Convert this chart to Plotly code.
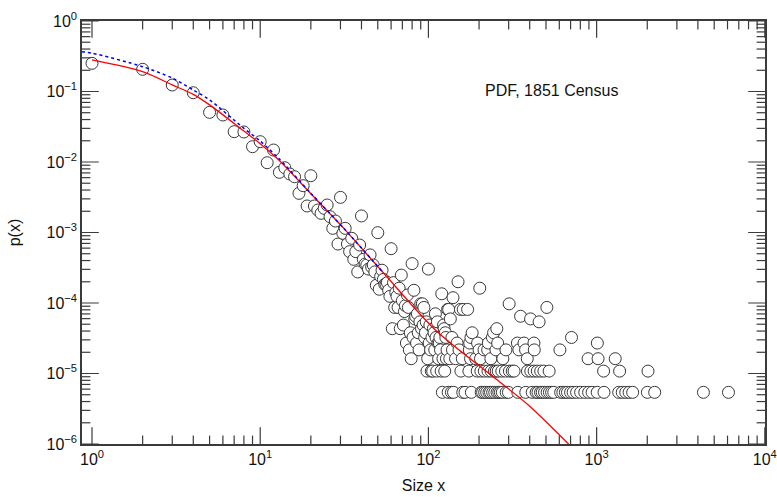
import plotly.graph_objects as go

# Observed size distribution: size x and number of occurrences at that size
census_total = 185000

sizes = [
    1, 2, 3, 4, 5, 6, 7, 8, 9, 10, 11, 12, 13, 14, 15, 16, 17, 18, 19, 20,
    21, 22, 23, 24, 25, 26, 27, 28, 29, 30, 31, 32, 33, 34, 35, 36, 37, 38, 39, 40,
    41, 42, 43, 44, 45, 46, 47, 48, 49, 50, 51, 52, 53, 54, 55, 56,
    57, 58, 59, 60, 61, 62, 63, 64, 65, 66, 67, 68, 69, 70, 71, 72, 73, 74, 75, 76,
    77, 78, 79, 80, 81, 82, 83, 84, 85, 86, 87, 88, 89, 90, 91, 92, 93, 94, 95, 96,
    97, 98, 99, 100, 101, 102, 103, 104, 105, 106, 107, 108, 109, 110, 111, 112,
    113, 114, 115, 116, 117, 118, 119, 120, 121, 122, 123, 124, 125, 126, 127, 128,
    129, 130, 131, 132,
    134, 135, 137, 138, 139, 140, 141, 145, 148, 150, 152, 155, 156, 159, 160, 161,
    165, 171, 174, 175, 176, 178, 179, 180, 182, 191, 195, 196, 200, 202, 204, 205,
    206, 210, 214, 215, 216, 222, 225, 226, 227, 229, 234, 235, 236, 240, 241, 244,
    247, 248, 252, 253, 255, 256, 258, 260, 262, 268, 273, 275, 277, 287, 289, 290,
    299, 302, 303, 315, 323, 338, 340, 345, 353, 370, 378, 379, 387, 388, 405, 406,
    414, 424, 425, 426, 437, 444, 448, 455, 464, 465, 475, 486, 490, 506, 508, 522,
    524, 540, 556, 605, 611, 630, 652, 671, 700, 709, 725, 760, 803, 850, 890, 896,
    940, 1008, 1010, 1020, 1100, 1106, 1290, 1353, 1370, 1420, 1490, 1560, 1638,
    2003, 2020, 2214, 4315, 6080,
]

counts = [
    46450, 38190, 22860, 17780, 9370, 8590, 4980, 4930, 3050, 3590, 1807, 2735, 1321, 1535, 1250, 1143, 665, 853, 440, 1183,
    440, 385, 346, 407, 454, 310, 212, 269, 127, 583, 180, 212, 127, 99, 153, 77, 99, 51, 123, 318,
    77, 66, 64, 56, 89, 60, 64, 51, 33, 184, 29, 44, 54, 40, 34, 34,
    36, 28, 23, 109, 8, 36, 16, 26, 23, 16, 30, 8, 46, 20, 9, 14, 17, 5, 24, 16,
    4, 7, 3, 67, 6, 28, 11, 12, 5, 13, 7, 4, 10, 18, 8, 18, 9, 16, 6, 7,
    10, 2, 3, 56, 5, 9, 4, 2, 6, 2, 8, 7, 4, 13, 6, 2,
    10, 5, 3, 5, 6, 4, 2, 25, 1, 3, 9, 8, 2, 7, 6, 3,
    4, 15, 1, 15,
    3, 11, 1, 6, 4, 22, 1, 3, 5, 37, 4, 15, 2, 3, 1, 15,
    1, 15, 2, 4, 5, 3, 6, 1, 7, 3, 2, 5, 4, 30, 3, 2,
    1, 1, 4, 2, 1, 1, 4, 2, 5, 1, 1, 3, 2, 6, 1, 7,
    2, 1, 4, 2, 8, 1, 5, 2, 1, 1, 2, 1, 3, 2, 4, 1,
    1, 18, 2, 2, 2, 5, 1, 4, 12, 5, 4, 1, 3, 2, 11, 2,
    1, 5, 2, 4, 1, 2, 1, 10, 1, 2, 1, 2, 1, 16, 1, 2,
    1, 1, 1, 4, 1, 1, 1, 1, 1, 6, 1, 1, 1, 1, 3, 1,
    1, 1, 5, 3, 2, 1, 3, 1, 2, 1, 1, 1, 1,
    1, 2, 1, 1, 1,
]

pdf = [c / census_total for c in counts]

# Fitted model curve (solid red)
fit_x = [1, 2, 3, 4, 5, 8, 10, 13, 20, 32, 53, 110, 250, 394, 681]
fit_p = [0.280, 0.191, 0.124, 0.0912, 0.0646, 0.0275, 0.0182, 0.0105,
         0.00355, 0.00109, 2.82e-4, 4.14e-5, 8.5e-6, 3.55e-6, 1.0e-6]

# Alternative model curve (dotted blue)
alt_x = [0.87, 1, 2, 3, 4, 5, 8, 10, 13, 20, 32, 53]
alt_p = [0.367, 0.35, 0.225, 0.155, 0.105, 0.076, 0.030, 0.0198, 0.0110,
         0.00360, 0.00109, 2.82e-4]

x_decades = [0, 1, 2, 3, 4]
y_decades = [0, -1, -2, -3, -4, -5, -6]
x_range = [-0.0595, 4.001]
y_range = [-6, 0]


def power_label(k):
    s = str(k).replace("-", "\u2212")
    return "10<sup>" + s + "</sup>"


def minor_vals(lo, hi):
    return [m * 10.0 ** k for k in range(lo, hi) for m in range(2, 10)]


font_family = "Liberation Sans, Arial, sans-serif"
axis_color = "#3a3a3a"
text_color = "#111111"

fig = go.Figure()

fig.add_trace(go.Scatter(
    x=sizes, y=pdf, mode="markers",
    marker=dict(symbol="circle", size=12, color="white",
                line=dict(color="#383838", width=1)),
    showlegend=False, hoverinfo="x+y",
))

fig.add_trace(go.Scatter(
    x=fit_x, y=fit_p, mode="lines",
    line=dict(color="#ff0000", width=1.3, shape="spline", smoothing=0.8),
    showlegend=False,
))

fig.add_trace(go.Scatter(
    x=alt_x, y=alt_p, mode="lines",
    line=dict(color="#0000ff", width=1.5, dash="dot", shape="spline", smoothing=0.8),
    showlegend=False,
))


# Inward tick marks on all four sides: line markers centred on the frame,
# clipped by the plot area so that only the inner half shows.
def frame_ticks(vals, along, length):
    x_lo, x_hi = 10 ** x_range[0], 10 ** x_range[1]
    y_lo, y_hi = 10 ** y_range[0], 10 ** y_range[1]
    if along == "x":
        xs = list(vals) + list(vals)
        ys = [y_lo] * len(vals) + [y_hi] * len(vals)
        symbol = "line-ns-open"
    else:
        xs = [x_lo] * len(vals) + [x_hi] * len(vals)
        ys = list(vals) + list(vals)
        symbol = "line-ew-open"
    return go.Scatter(
        x=xs, y=ys, mode="markers", cliponaxis=True,
        marker=dict(symbol=symbol, size=2 * length, color=axis_color,
                    line=dict(color=axis_color, width=1.2)),
        showlegend=False, hoverinfo="skip",
    )


x_minor = [v for v in minor_vals(0, 4) if 10 ** x_range[0] < v < 10 ** x_range[1]]
y_minor = minor_vals(-6, 0)
fig.add_trace(frame_ticks([10 ** k for k in x_decades], "x", 12))
fig.add_trace(frame_ticks(x_minor, "x", 6))
fig.add_trace(frame_ticks([10 ** k for k in y_decades], "y", 12))
fig.add_trace(frame_ticks(y_minor, "y", 6))

frame_axis = dict(
    showgrid=False, zeroline=False,
    showline=True, linecolor=axis_color, linewidth=1.5,
    mirror=True, ticks="",
    tickfont=dict(family=font_family, size=16, color=text_color),
    tickmode="array",
)

fig.update_layout(
    template="none",
    xaxis=dict(
        type="log", range=x_range,
        tickvals=[10 ** k for k in x_decades],
        ticktext=[power_label(k) for k in x_decades],
        title=dict(text="Size x", font=dict(family=font_family, size=16, color=text_color),
                   standoff=13),
        **frame_axis,
    ),
    yaxis=dict(
        type="log", range=y_range,
        tickvals=[10 ** k for k in y_decades],
        ticktext=[power_label(k) for k in y_decades],
        title=dict(text="p(x)", font=dict(family=font_family, size=16, color=text_color),
                   standoff=22),
        **frame_axis,
    ),
)

fig.add_annotation(
    x=0.587, y=0.835, xref="paper", yref="paper",
    text="PDF, 1851 Census", showarrow=False,
    xanchor="left", yanchor="middle",
    font=dict(family=font_family, size=16, color=text_color),
)

fig.update_layout(
    width=777, height=497,
    margin=dict(l=82, r=12, t=21, b=53, autoexpand=False),
    paper_bgcolor="white", plot_bgcolor="white",
    font=dict(family=font_family, color=text_color),
)

fig.write_html("out.html")
